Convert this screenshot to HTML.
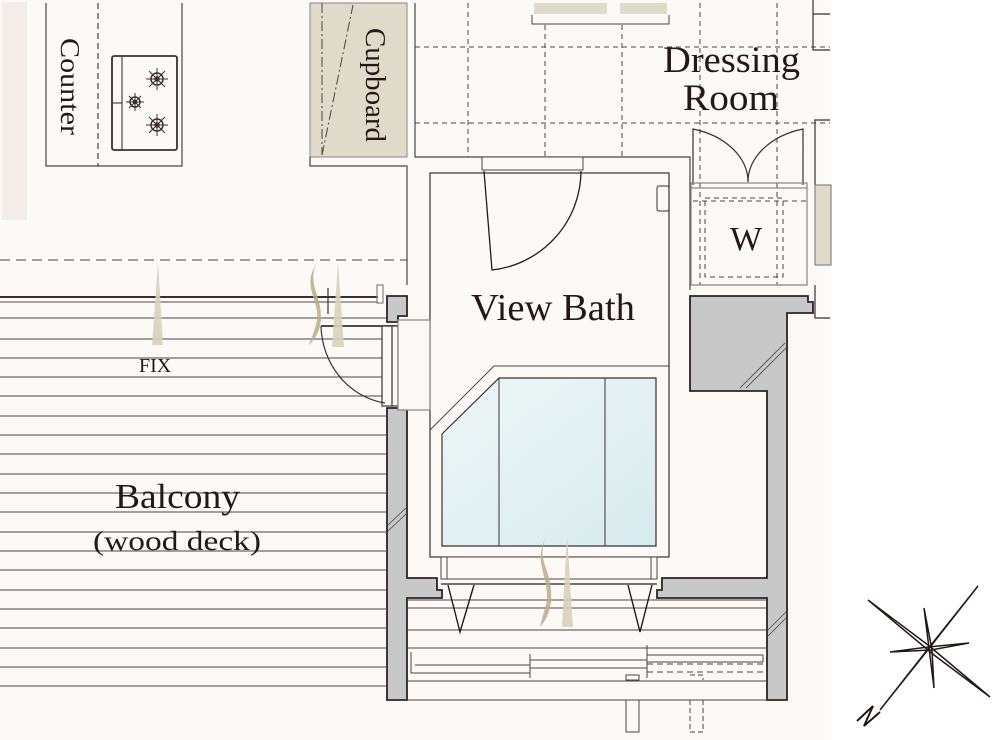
<!DOCTYPE html>
<html><head><meta charset="utf-8"><style>
html,body{margin:0;padding:0;background:#fff;}
svg{display:block;}
text{font-family:"Liberation Serif",serif;fill:#231815;}
</style></head><body>
<svg width="1000" height="740" viewBox="0 0 1000 740" xmlns="http://www.w3.org/2000/svg">
<rect x="0" y="0" width="831" height="740" fill="#fdf9f7"/>
<rect x="2" y="2" width="25" height="218" fill="#f4ece8"/>
<g fill="none" stroke="#4a4444" stroke-width="1.2">
<path d="M46,3 V166 H182 V3"/>
<line x1="98" y1="3" x2="98" y2="166" stroke-dasharray="6,4"/>
<rect x="112" y="56" width="65" height="94" rx="2" stroke-width="1.8" stroke="#3a3030"/>
<line x1="122" y1="56" x2="122" y2="150"/>
<line x1="112" y1="103" x2="122" y2="103"/>
</g>
<g stroke="#3a3030" fill="none" stroke-width="1.5">
<circle cx="157" cy="79" r="6"/><circle cx="157" cy="79" r="2"/>
<path d="M146,79h22M157,68v22M149,71l16,16M165,71l-16,16" stroke-width="1"/>
<circle cx="157" cy="125" r="6"/><circle cx="157" cy="125" r="2"/>
<path d="M146,125h22M157,114v22M149,117l16,16M165,117l-16,16" stroke-width="1"/>
<circle cx="135" cy="102" r="5"/><circle cx="135" cy="102" r="1.5"/>
<path d="M126,102h18M135,93v18M129,96l12,12M141,96l-12,12" stroke-width="1"/>
</g>
<text transform="translate(61,38) rotate(90)" font-size="27" textLength="97" lengthAdjust="spacingAndGlyphs">Counter</text>
<rect x="310" y="3" width="97" height="154" fill="#e0dacb" stroke="#8a8480"/>
<line x1="322" y1="3" x2="322" y2="155" stroke="#4a4444" stroke-dasharray="10,3,2,3"/>
<line x1="322" y1="155" x2="353" y2="5" stroke="#4a4444" stroke-dasharray="10,3,2,3"/>
<text transform="translate(366,28) rotate(90)" font-size="28" textLength="114" lengthAdjust="spacingAndGlyphs">Cupboard</text>
<path d="M310,157 V166 H407 V285" fill="none" stroke="#4a4444" stroke-width="1.2"/>
<g stroke="#4a4444" stroke-width="1" stroke-dasharray="5,4" fill="none">
<line x1="0" y1="260" x2="407" y2="260" stroke-dasharray="10,6"/>
<line x1="415" y1="47" x2="830" y2="47"/>
<line x1="415" y1="123" x2="830" y2="123"/>
<line x1="468" y1="3" x2="468" y2="157"/>
<line x1="545" y1="25" x2="545" y2="157"/>
<line x1="622" y1="25" x2="622" y2="157"/>
<line x1="700" y1="3" x2="700" y2="285"/>
<line x1="777" y1="3" x2="777" y2="285"/>
<rect x="705" y="198" width="78" height="79"/>
<line x1="693" y1="201" x2="807" y2="201"/>
</g>
<path d="M415,3 V157 H690 V290" fill="none" stroke="#4a4444" stroke-width="1.2"/>
<rect x="534" y="3" width="73" height="11" fill="#e0dacb"/>
<rect x="620" y="3" width="47" height="11" fill="#e0dacb"/>
<path d="M532,15 V24 H669 V15" fill="none" stroke="#4a4444"/>
<g fill="none" stroke="#3a3030" stroke-width="1.2">
<path d="M693,185 V129 A75,55 0 0 1 748,182 A75,55 0 0 1 803,129 V185"/>
<rect x="691" y="183" width="116" height="5" stroke="#8a8480"/>
<path d="M691,188 V285 H807 V188" stroke="#8a8480"/>
<path d="M815,185 V120 H830" />
<rect x="815" y="185" width="16" height="80" fill="#e0dacb" stroke="#8a8480"/>
<path d="M815,285 V318 H830 M813,0 V14 H830 M813,2 V50 H830"/>
</g>
<text x="663" y="72" font-size="37" textLength="137" lengthAdjust="spacingAndGlyphs">Dressing</text>
<text x="683" y="110" font-size="37" textLength="96" lengthAdjust="spacingAndGlyphs">Room</text>
<text x="730" y="250" font-size="34">W</text>
<rect x="430" y="173" width="239" height="384" fill="none" stroke="#3a3030" stroke-width="1.2"/>
<rect x="482" y="157" width="101" height="13" fill="#fdf9f7" stroke="#4a4444"/>
<path d="M484,171 L492,270 A100,100 0 0 0 581,171" fill="none" stroke="#231815" stroke-width="1.3"/>
<rect x="657" y="186" width="12" height="25" rx="2" fill="none" stroke="#3a3030"/>
<text x="471" y="320" font-size="38" textLength="164" lengthAdjust="spacingAndGlyphs">View Bath</text>
<defs><linearGradient id="g" x1="0" y1="0" x2="1" y2="1"><stop offset="0" stop-color="#eef6f7"/><stop offset="1" stop-color="#d8ebee"/></linearGradient></defs>
<path d="M430,430 L494,366 H669" fill="none" stroke="#4a4444"/>
<path d="M442,434 L499,378 H656 V546 H442 Z" fill="url(#g)" stroke="#3a3030" stroke-width="1.2"/>
<line x1="499" y1="378" x2="499" y2="546" stroke="#3a3030"/>
<line x1="605" y1="378" x2="605" y2="546" stroke="#3a3030"/>
<rect x="441" y="557" width="216" height="22" fill="#fdf9f7" stroke="#4a4444"/>
<line x1="447" y1="557" x2="447" y2="579" stroke="#4a4444"/>
<line x1="651" y1="557" x2="651" y2="579" stroke="#4a4444"/>
<g fill="#c8c8c8" stroke="#2a2424" stroke-width="1.8">
<path d="M387,408 H407 V578 H437 V590 H442 V598 H407 V700 H387 Z"/>
<path d="M690,296 H808 V302 H813 V313 H787 V700 H767 V598 H657 V590 H662 V578 H767 V391 H690 Z"/>
<path d="M387,296 H407 V316 H398 V322 H387 Z"/>
</g>
<g stroke="#4a4444" stroke-width="0.8">
<path d="M740,388 L785,343 M746,388 L786,348"/>
<path d="M388,525 L406,508 M388,531 L406,514"/>
<path d="M768,630 L786,612 M768,636 L786,618"/>
</g>
<g stroke="#4a4444" stroke-width="1.1">
<line x1="0" y1="297" x2="378" y2="297" stroke-width="2" stroke="#3a3030"/>
<line x1="0" y1="302" x2="378" y2="302"/>
<line x1="0" y1="318" x2="387" y2="318"/>
<line x1="0" y1="339" x2="387" y2="339"/>
<line x1="0" y1="358" x2="387" y2="358"/>
<line x1="0" y1="377" x2="387" y2="377"/>
<line x1="0" y1="396" x2="387" y2="396"/>
<line x1="0" y1="416" x2="387" y2="416"/>
<line x1="0" y1="435" x2="387" y2="435"/>
<line x1="0" y1="454" x2="387" y2="454"/>
<line x1="0" y1="474" x2="387" y2="474"/>
<line x1="0" y1="493" x2="387" y2="493"/>
<line x1="0" y1="512" x2="387" y2="512"/>
<line x1="0" y1="532" x2="387" y2="532"/>
<line x1="0" y1="551" x2="387" y2="551"/>
<line x1="0" y1="570" x2="387" y2="570"/>
<line x1="0" y1="590" x2="387" y2="590"/>
<line x1="0" y1="609" x2="387" y2="609"/>
<line x1="0" y1="628" x2="387" y2="628"/>
<line x1="0" y1="648" x2="387" y2="648"/>
<line x1="0" y1="667" x2="387" y2="667"/>
<line x1="0" y1="686" x2="387" y2="686"/>
<line x1="407" y1="600" x2="767" y2="600"/>
<line x1="407" y1="608" x2="767" y2="608"/>
<line x1="407" y1="630" x2="767" y2="630"/>
<line x1="407" y1="648" x2="767" y2="648"/>
<line x1="407" y1="681" x2="767" y2="681"/>
<line x1="407" y1="700" x2="767" y2="700"/>
</g>
<g fill="none" stroke="#3a3030" stroke-width="1.2">
<line x1="321" y1="326" x2="398" y2="326" stroke-width="1.8"/>
<rect x="382" y="326" width="16" height="80" fill="#fdf9f7"/>
<line x1="392" y1="326" x2="392" y2="406"/>
<path d="M321,326 A75,80 0 0 0 385,403"/>
<rect x="398" y="320" width="32" height="90" fill="#fdf9f7" stroke="#8a8480"/>
<line x1="328" y1="288" x2="328" y2="314"/>
<rect x="377" y="285" width="6" height="18" stroke="#8a8480"/>
</g>
<g fill="none" stroke="#231815" stroke-width="1.4">
<path d="M448,585 L460,632 L474,585 M628,585 L640,632 L652,585"/>
<line x1="441" y1="584" x2="657" y2="584" stroke="#4a4444"/>
</g>
<g fill="none" stroke="#4a4444" stroke-width="1">
<path d="M411,652 V673 H530 V665 H415"/>
<rect x="530" y="660" width="117" height="8"/>
<line x1="530" y1="654" x2="530" y2="678"/>
<rect x="647" y="655" width="116" height="7"/>
<path d="M647,664 H763 M647,672 H763" stroke-dasharray="6,4"/>
<line x1="647" y1="645" x2="647" y2="678"/>
<rect x="626" y="675" width="13" height="5"/>
<rect x="626" y="700" width="13" height="32"/>
<path d="M690,675 H703 V680 M690,700 V732 H703 V700" stroke-dasharray="5,3"/>
</g>
<g fill="#b8ad8a" opacity="0.85">
<path d="M318,262 C300,285 320,300 317,320 C314,335 310,340 309,345 C325,330 322,310 317,295 C312,280 312,270 318,262 Z"/>
<path d="M548,535 C530,560 552,580 546,605 C543,615 541,622 540,627 C556,610 552,585 546,568 C541,555 541,545 548,535 Z"/>
</g>
<g fill="#d8d0bb" opacity="0.9">
<path d="M158,262 L163,345 H152 Z"/>
<path d="M338,262 L344,347 H332 Z"/>
<path d="M567,535 L573,627 H562 Z"/>
</g>
<text x="139" y="372" font-size="20">FIX</text>
<text x="115" y="508" font-size="35" textLength="125" lengthAdjust="spacingAndGlyphs">Balcony</text>
<text x="93" y="550" font-size="27" textLength="168" lengthAdjust="spacingAndGlyphs">(wood deck)</text>
<g fill="none" stroke="#231815" stroke-width="1.5">
<path d="M868,600 L928,645 L990,697 L934,655 Z"/>
<path d="M978,586 L935,640 L880,710 L927,651 Z"/>
<path d="M924,608 L929,648 L934,688 L932,650 Z"/>
<path d="M890,652 L928,647 L969,643 L931,650 Z"/>
<path d="M857,721 L873,706 L864,726 L880,712" stroke-width="2"/>
</g>
</svg>
</body></html>
